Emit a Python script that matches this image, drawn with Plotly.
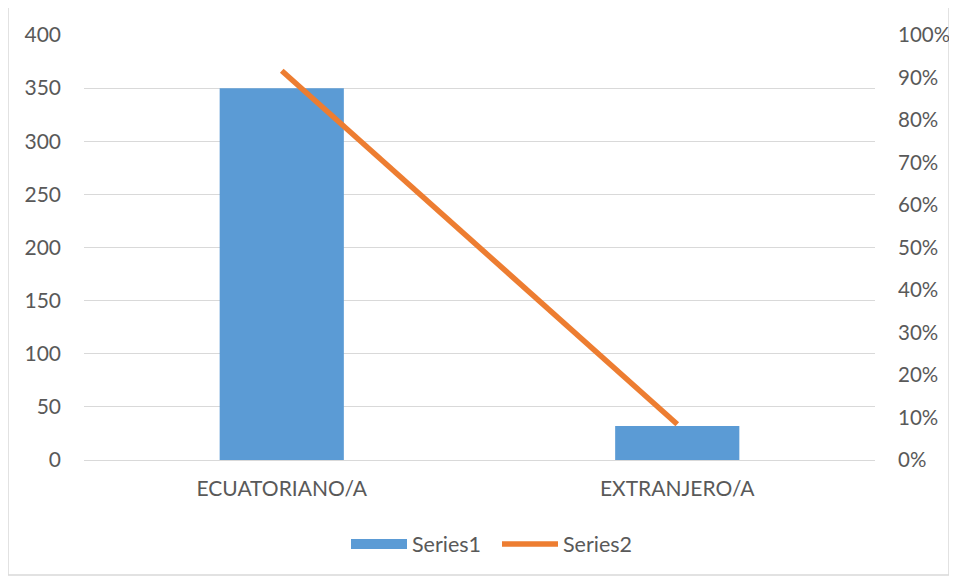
import plotly.graph_objects as go

categories = ["ECUATORIANO/A", "EXTRANJERO/A"]
series1 = [350, 32]
series2 = [0.916, 0.084]

FONT = "Lato, 'Open Sans', sans-serif"
TXT = "#595959"
GRID = "#D9D9D9"
BLUE = "#5B9BD5"
ORANGE = "#ED7D31"

OFF = 8
W, H = 957 - OFF, 578 - OFF
pw, ph = 791, 425
L, T = 84 - OFF, 35 - OFF
R, B = W - L - pw, H - T - ph

fig = go.Figure()
fig.add_trace(go.Bar(x=categories, y=series1, name="Series1",
                     marker=dict(color=BLUE, line=dict(width=0)),
                     width=0.314, yaxis="y", showlegend=False))
# legend key for Series1 drawn as a wide swatch (no data)
fig.add_trace(go.Scatter(x=[None], y=[None], name="Series1", mode="lines",
                         line=dict(color=BLUE, width=14), yaxis="y"))
fig.add_trace(go.Scatter(x=categories, y=series2, name="Series2", mode="lines",
                         line=dict(color=ORANGE, width=5.5), yaxis="y2"))

def px_x(p):
    return (p - OFF - L) / pw

def px_y(p):
    return (T + ph - (p - OFF)) / ph

fig.update_layout(
    width=W, height=H,
    margin=dict(l=L, r=R, t=T, b=B, autoexpand=False),
    paper_bgcolor="white", plot_bgcolor="white",
    font=dict(family=FONT, size=21, color=TXT),
    showlegend=True,
    legend=dict(orientation="h", x=px_x(497), xanchor="center", y=px_y(544), yanchor="middle",
                font=dict(size=21.5, color=TXT), traceorder="normal", itemwidth=56,
                entrywidth=80),
    xaxis=dict(showgrid=False, showline=True, linecolor=GRID, linewidth=1, automargin=False,
               ticks="", tickfont=dict(size=21, color=TXT), ticklabelstandoff=10),
    yaxis=dict(range=[0, 400], dtick=50, showgrid=True, gridcolor=GRID, gridwidth=1,
               zeroline=False, showline=False, ticks="", tickfont=dict(size=21, color=TXT),
               ticklabelstandoff=22, automargin=False),
    yaxis2=dict(range=[0, 1], dtick=0.1, tickformat=".0%", overlaying="y", side="right",
                showgrid=False, zeroline=False, showline=False, ticks="", automargin=False,
                tickfont=dict(size=20.5, color=TXT), ticklabelstandoff=22),
    shapes=[dict(type="rect", xref="paper", yref="paper",
                 x0=px_x(8), x1=px_x(949), y0=px_y(575), y1=px_y(7),
                 line=dict(color=GRID, width=1.5), fillcolor="rgba(0,0,0,0)", layer="below")],
)

fig.write_html("out.html")
